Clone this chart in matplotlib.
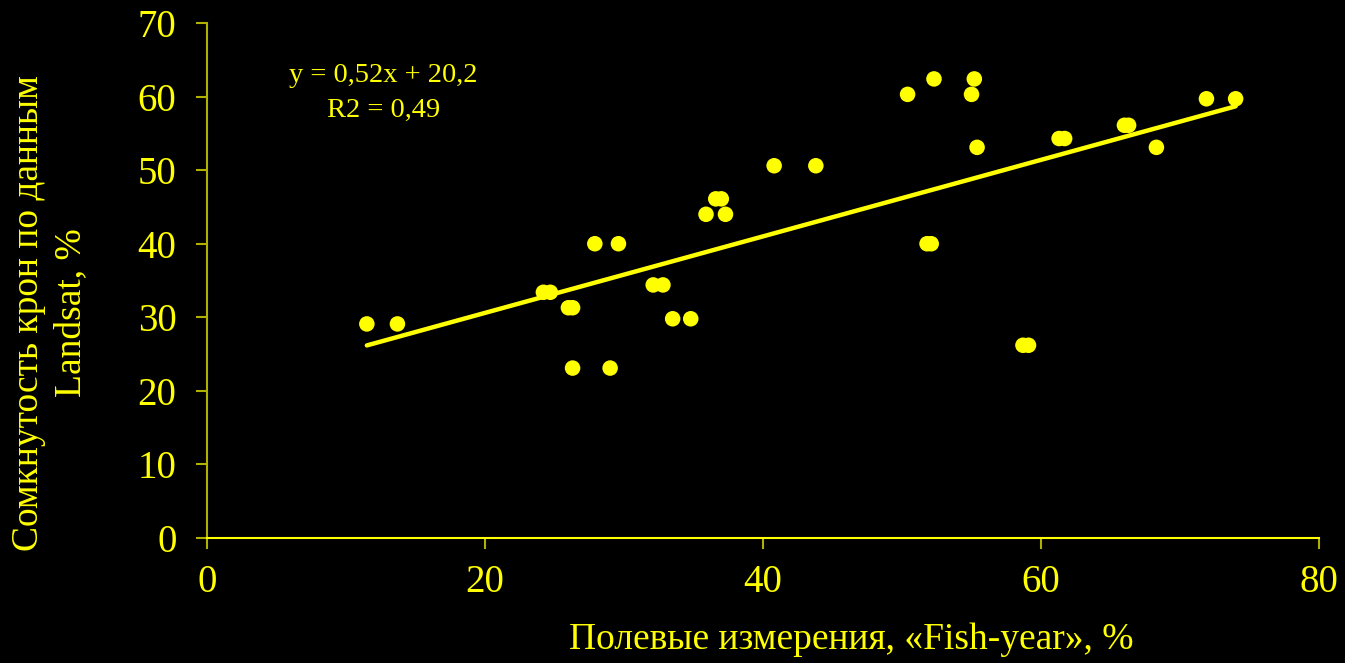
import numpy as np
import matplotlib.pyplot as plt

# field measurements vs Landsat canopy closure
field_x = [11.5, 13.7, 24.2, 24.7, 26.0, 26.3, 26.3, 29.0, 27.9, 29.6,
           32.1, 32.8, 33.5, 34.8, 35.9, 36.6, 37.0, 37.3, 40.8, 43.8,
           50.4, 52.3, 51.8, 52.1, 55.0, 55.2, 55.4, 58.7, 59.1, 61.3,
           61.7, 66.0, 66.3, 68.3, 71.9, 74.0]
landsat_y = [29.1, 29.1, 33.4, 33.4, 31.3, 31.3, 23.1, 23.1, 40.0, 40.0,
             34.4, 34.4, 29.8, 29.8, 44.0, 46.1, 46.1, 44.0, 50.6, 50.6,
             60.3, 62.4, 40.0, 40.0, 60.3, 62.4, 53.1, 26.2, 26.2, 54.3,
             54.3, 56.1, 56.1, 53.1, 59.7, 59.7]

slope = 0.52
intercept = 20.2
eq_text = "y = 0,52x + 20,2\nR2 = 0,49"

yel = '#ffff00'
dim = '#b0b000'

plt.rcParams['font.family'] = ['Liberation Serif', 'DejaVu Serif']

fig = plt.figure(figsize=(13.45, 6.63), dpi=100, facecolor='black')
ax = fig.add_axes([0.1539, 0.1885, 0.8268, 0.7768])
ax.set_facecolor('black')

xs = np.array([min(field_x), max(field_x)])
ax.plot(xs, slope * xs + intercept, color=yel, lw=3.2, solid_capstyle='round', zorder=2)
ax.scatter(field_x, landsat_y, s=125, color=yel, edgecolors='none', zorder=3)

ax.set_xlim(0, 80)
ax.set_ylim(0, 70)
ax.set_xticks([0, 20, 40, 60, 80])
ax.set_yticks(range(0, 71, 10))

for side in ['top', 'right']:
    ax.spines[side].set_visible(False)
ax.spines['left'].set_color(dim)
ax.spines['left'].set_linewidth(1.5)
ax.spines['bottom'].set_color(yel)
ax.spines['bottom'].set_linewidth(1.5)
ax.tick_params(axis='both', colors=dim, labelcolor=yel, labelsize=28,
               length=8, width=1.5, direction='out')
ax.tick_params(axis='x', pad=11)
ax.tick_params(axis='y', pad=14)

fig.text(0.633, 0.035, "Полевые измерения, «Fish-year», %", color=yel,
         fontsize=27, ha='center', va='center')
fig.text(0.037, 0.528, "Сомкнутость крон по данным\nLandsat, %", color=yel,
         fontsize=27, ha='center', va='center', rotation=90, linespacing=1.3)
fig.text(0.285, 0.860, eq_text, color=yel, fontsize=20.5, ha='center', va='center',
         linespacing=1.55)

fig.savefig('out.png', dpi=100, facecolor='black')
